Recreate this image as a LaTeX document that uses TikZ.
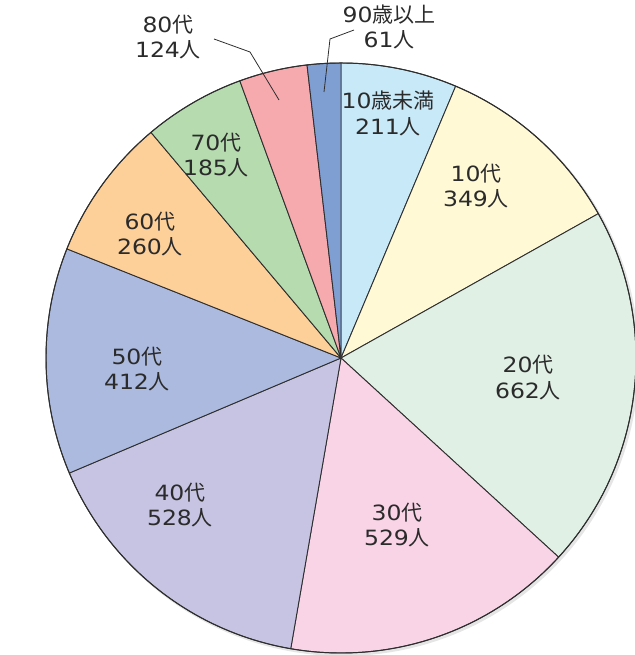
\documentclass[tikz,border=0pt]{standalone}
\usepackage{fontspec}
\newfontfamily\jpfont{Noto Sans CJK JP}
\newfontfamily\dgfont[FakeStretch=1.12]{DejaVu Sans}
\newcommand\dgt[1]{{\dgfont #1}}
\definecolor{txt}{HTML}{2B2B2B}
\definecolor{edge}{HTML}{2E2E2E}
\definecolor{cA}{HTML}{C8E9F8}
\definecolor{cB}{HTML}{FFF9D6}
\definecolor{cC}{HTML}{E0F0E5}
\definecolor{cD}{HTML}{F9D4E6}
\definecolor{cE}{HTML}{C6C4E2}
\definecolor{cF}{HTML}{ACBADF}
\definecolor{cG}{HTML}{FDD09A}
\definecolor{cH}{HTML}{B5DBAF}
\definecolor{cI}{HTML}{F6AAAE}
\definecolor{cJ}{HTML}{7F9FD3}
\begin{document}
\begin{tikzpicture}[x=1pt,y=1pt,
  lbl/.style={font=\jpfont\fontsize{21}{25.5}\selectfont, text=txt, align=center, inner sep=0pt},
  wedge/.style={draw=edge, line width=0.9pt, line join=round},
  leader/.style={draw=edge, line width=0.8pt}]
\useasboundingbox (0,0) rectangle (634,655);
\coordinate (c) at (341,297);
\fill[black, opacity=0.10] (343,295) circle[radius=296];
\newcommand\slice[3]{\filldraw[wedge, fill=#3] (c) -- ([shift={(341,297)}]#1:295) arc[start angle=#1, end angle=#2, radius=295] -- cycle;}
\slice{90}{67.127}{cA}
\slice{67.127}{29.295}{cB}
\slice{29.295}{-42.466}{cC}
\slice{-42.466}{-99.810}{cD}
\slice{-99.810}{-157.046}{cE}
\slice{-157.046}{-201.707}{cF}
\slice{-201.707}{-229.891}{cG}
\slice{-229.891}{-249.945}{cH}
\slice{-249.945}{-263.387}{cI}
\slice{-263.387}{-270}{cJ}
\draw[edge, line width=1pt] (c) circle[radius=295];
\node[lbl] (n10u) at (388,541.5) {\dgt{10}歳未満\\\dgt{211}人};
\node[lbl] (n10) at (476,469) {\dgt{10}代\\\dgt{349}人};
\node[lbl] (n20) at (528,277.5) {\dgt{20}代\\\dgt{662}人};
\node[lbl] (n30) at (397,130) {\dgt{30}代\\\dgt{529}人};
\node[lbl] (n40) at (180,150) {\dgt{40}代\\\dgt{528}人};
\node[lbl] (n50) at (137,286) {\dgt{50}代\\\dgt{412}人};
\node[lbl] (n60) at (150,421) {\dgt{60}代\\\dgt{260}人};
\node[lbl] (n70) at (216,500) {\dgt{70}代\\\dgt{185}人};
\node[lbl] (n80) at (168,618) {\dgt{80}代\\\dgt{124}人};
\node[lbl] (n90) at (389,628) {\dgt{90}歳以上\\\dgt{61}人};
\coordinate (p90a) at (324,563);
\coordinate (p90b) at (330,616);
\coordinate (p90c) at (354,625);
\coordinate (p80a) at (279,555);
\coordinate (p80b) at (250,603);
\coordinate (p80c) at (214,616);
\draw[leader] (p90a) -- (p90b) -- (p90c);
\draw[leader] (p80a) -- (p80b) -- (p80c);
\end{tikzpicture}
\end{document}
